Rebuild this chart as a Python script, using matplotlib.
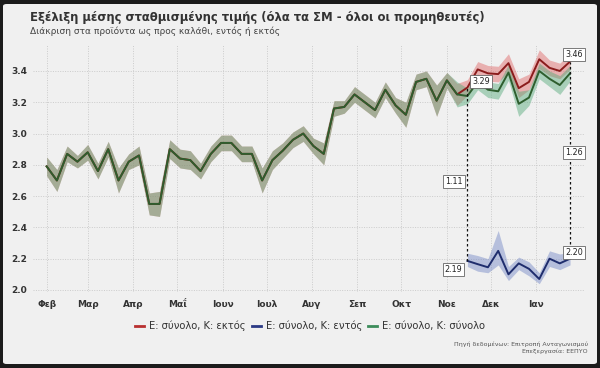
import numpy as np
import pandas as pd
import matplotlib
matplotlib.use("Agg")
import matplotlib.pyplot as plt
from matplotlib.lines import Line2D
from matplotlib.patches import FancyBboxPatch

plt.rcParams['font.family'] = ['DejaVu Sans']

# ---------------- data ----------------
start_date = "2023-02-01"
n_weeks = 52
month_labels = ["Φεβ", "Μαρ", "Απρ", "Μαΐ", "Ιουν", "Ιουλ", "Αυγ", "Σεπ", "Οκτ", "Νοε", "Δεκ", "Ιαν"]
y_ticks = [2.0, 2.2, 2.4, 2.6, 2.8, 3.0, 3.2, 3.4]

# E: σύνολο, K: σύνολο
green = [2.79, 2.70, 2.87, 2.82, 2.88, 2.76, 2.90, 2.70, 2.82, 2.86,
         2.55, 2.55, 2.90, 2.84, 2.83, 2.76, 2.87, 2.94, 2.94, 2.87,
         2.87, 2.70, 2.83, 2.89, 2.96, 3.00, 2.92, 2.87, 3.16, 3.17,
         3.25, 3.20, 3.15, 3.28, 3.18, 3.12, 3.33, 3.35, 3.21, 3.34,
         3.25, 3.24, 3.33, 3.28, 3.27, 3.39, 3.19, 3.23, 3.40, 3.35,
         3.31, 3.385]
green_spread = [0.06, 0.07, 0.05, 0.04, 0.05, 0.05, 0.05, 0.08, 0.05, 0.06,
                0.07, 0.08, 0.06, 0.06, 0.06, 0.05, 0.05, 0.05, 0.05, 0.05,
                0.05, 0.08, 0.06, 0.05, 0.05, 0.05, 0.05, 0.07, 0.05, 0.04,
                0.05, 0.05, 0.05, 0.05, 0.05, 0.08, 0.05, 0.05, 0.10, 0.05,
                0.08, 0.05, 0.05, 0.05, 0.05, 0.05, 0.08, 0.05, 0.05, 0.05,
                0.06, 0.05]
# E: σύνολο, K: εκτός
red = [2.79, 2.70, 2.87, 2.82, 2.88, 2.76, 2.90, 2.70, 2.82, 2.86,
       2.55, 2.55, 2.90, 2.84, 2.83, 2.76, 2.87, 2.94, 2.94, 2.87,
       2.87, 2.70, 2.83, 2.89, 2.96, 3.00, 2.92, 2.87, 3.16, 3.17,
       3.25, 3.20, 3.15, 3.28, 3.18, 3.12, 3.33, 3.35, 3.21, 3.34,
       3.25, 3.294, 3.41, 3.385, 3.38, 3.45, 3.29, 3.33, 3.475, 3.42,
       3.40, 3.46]
red_spread = [0.06, 0.07, 0.05, 0.04, 0.05, 0.05, 0.05, 0.08, 0.05, 0.06,
              0.07, 0.08, 0.06, 0.06, 0.06, 0.05, 0.05, 0.05, 0.05, 0.05,
              0.05, 0.08, 0.06, 0.05, 0.05, 0.05, 0.05, 0.07, 0.05, 0.04,
              0.05, 0.05, 0.05, 0.05, 0.05, 0.08, 0.05, 0.05, 0.10, 0.05,
              0.07, 0.05, 0.05, 0.05, 0.05, 0.06, 0.06, 0.05, 0.06, 0.05,
              0.05, 0.05]
# E: σύνολο, K: εντός  (only from December)
blue = [np.nan] * 41 + [2.186, 2.165, 2.145, 2.25, 2.10, 2.17, 2.135, 2.07, 2.20, 2.17, 2.20]
blue_lo = [np.nan] * 41 + [2.15, 2.12, 2.11, 2.16, 2.06, 2.13, 2.09, 2.04, 2.15, 2.13, 2.16]
blue_hi = [np.nan] * 41 + [2.235, 2.22, 2.20, 2.38, 2.15, 2.21, 2.18, 2.11, 2.25, 2.23, 2.24]

diff_idx = [41, 51]

series_names = ["Ε: σύνολο, Κ: εκτός", "Ε: σύνολο, Κ: εντός", "Ε: σύνολο, Κ: σύνολο"]

title = "Εξέλιξη μέσης σταθμισμένης τιμής (όλα τα ΣΜ - όλοι οι προμηθευτές)"
subtitle = "Διάκριση στα προϊόντα ως προς καλάθι, εντός ή εκτός"
source1 = "Πηγή δεδομένων: Επιτροπή Ανταγωνισμού"
source2 = "Επεξεργασία: ΕΕΠΥΟ"

# ---------------- figure ----------------
dates = pd.date_range(start_date, periods=n_weeks, freq="7D")
green = np.array(green); red = np.array(red); blue = np.array(blue)
green_spread = np.array(green_spread); red_spread = np.array(red_spread)
blue_lo = np.array(blue_lo); blue_hi = np.array(blue_hi)

W, H = 600, 368
fig = plt.figure(figsize=(W / 100, H / 100), dpi=100, facecolor="#1b1b1b")
panel = FancyBboxPatch((3 / W, 4 / H), 594 / W, 360 / H,
                       boxstyle="round,pad=0,rounding_size=0.006",
                       transform=fig.transFigure, facecolor="#f0f0f0",
                       edgecolor="none", zorder=-10)
fig.patches.append(panel)

ax = fig.add_axes([33 / W, (H - 292) / H, 552 / W, 247 / H])
ax.set_zorder(1)
ax.set_facecolor("none")

c_red_fill, c_green_fill, c_blue_fill = "#e06262", "#52a878", "#7084c4"
c_red, c_green, c_blue = "#8b1c1c", "#2e5e2e", "#1f2d6d"

ax.fill_between(dates, red - red_spread, red + red_spread, color=c_red_fill, alpha=0.45, lw=0, zorder=2)
ax.fill_between(dates, green - green_spread, green + green_spread, color=c_green_fill, alpha=0.45, lw=0, zorder=3)
ax.fill_between(dates, blue_lo, blue_hi, color=c_blue_fill, alpha=0.45, lw=0, zorder=3)
ax.plot(dates, red, color=c_red, lw=1.4, zorder=4)
ax.plot(dates, blue, color=c_blue, lw=1.4, zorder=4)
ax.plot(dates, green, color=c_green, lw=1.4, zorder=5)

# difference markers
box = dict(boxstyle="square,pad=0.25", fc="white", ec="#666666", lw=0.6)
for k, i in enumerate(diff_idx):
    d = dates[i]
    top, bot = red[i], blue[i]
    ax.plot([d, d], [bot, top], color="#111111", lw=0.9, ls=(0, (2, 2)), zorder=6)
    mid = (top + bot) / 2
    if k == 0:
        offs = [(10, 4.5), (-10, -6.5), (-9.5, -5.5)]
    else:
        offs = [(3, 5.3), (3, 4.5), (3, 5.4)]
    for val, yy, off in [(top, top, offs[0]), (bot, bot, offs[1]), (top - bot, mid, offs[2])]:
        ax.annotate(f"{val:.2f}", xy=(d, yy), xytext=off, textcoords="offset points",
                    ha="center", va="center", fontsize=5.8, color="#222222",
                    bbox=box, zorder=7)

# axes styling
x0 = pd.Timestamp(start_date)
ax.set_xlim(x0 - pd.Timedelta(days=9.3), x0 + pd.Timedelta(days=367.2))
ax.set_ylim(1.987, 3.566)
ax.set_yticks(y_ticks)
ax.set_yticklabels([f"{v:.1f}" for v in y_ticks])
month_starts = pd.date_range(start_date, periods=len(month_labels), freq="MS")
ax.set_xticks(month_starts)
ax.set_xticklabels(month_labels)
for lab in ax.get_xticklabels() + ax.get_yticklabels():
    lab.set_fontweight("bold")
    lab.set_fontsize(6.5)
    lab.set_color("#333333")
ax.tick_params(axis="both", length=0)
ax.tick_params(axis="y", pad=4)
ax.tick_params(axis="x", pad=6)
for s in ax.spines.values():
    s.set_visible(False)
ax.grid(True, color="#cbcbcb", ls=(0, (1, 1.5)), lw=0.7)
ax.set_axisbelow(True)

# legend
handles = [Line2D([], [], color=c, lw=2) for c in ["#b83030", "#2b3a85", "#3c8c5a"]]
fig.legend(handles, series_names, loc="center", bbox_to_anchor=(310 / W, 1 - 326 / H),
           ncol=3, frameon=False, fontsize=7.2, handlelength=0.9, handletextpad=0.5,
           columnspacing=0.6, labelcolor="#333333")

# texts
fig.text(30 / W, 1 - 18 / H, title, fontsize=8.4, fontweight="bold", color="#333333", va="center", ha="left")
fig.text(30 / W, 1 - 31 / H, subtitle, fontsize=6.5, color="#444444", va="center", ha="left")
fig.text(588 / W, 1 - 344 / H, source1, fontsize=4.5, color="#555555", ha="right", va="center")
fig.text(588 / W, 1 - 351 / H, source2, fontsize=4.5, color="#555555", ha="right", va="center")

fig.savefig("out.png", dpi=100, facecolor=fig.get_facecolor())
